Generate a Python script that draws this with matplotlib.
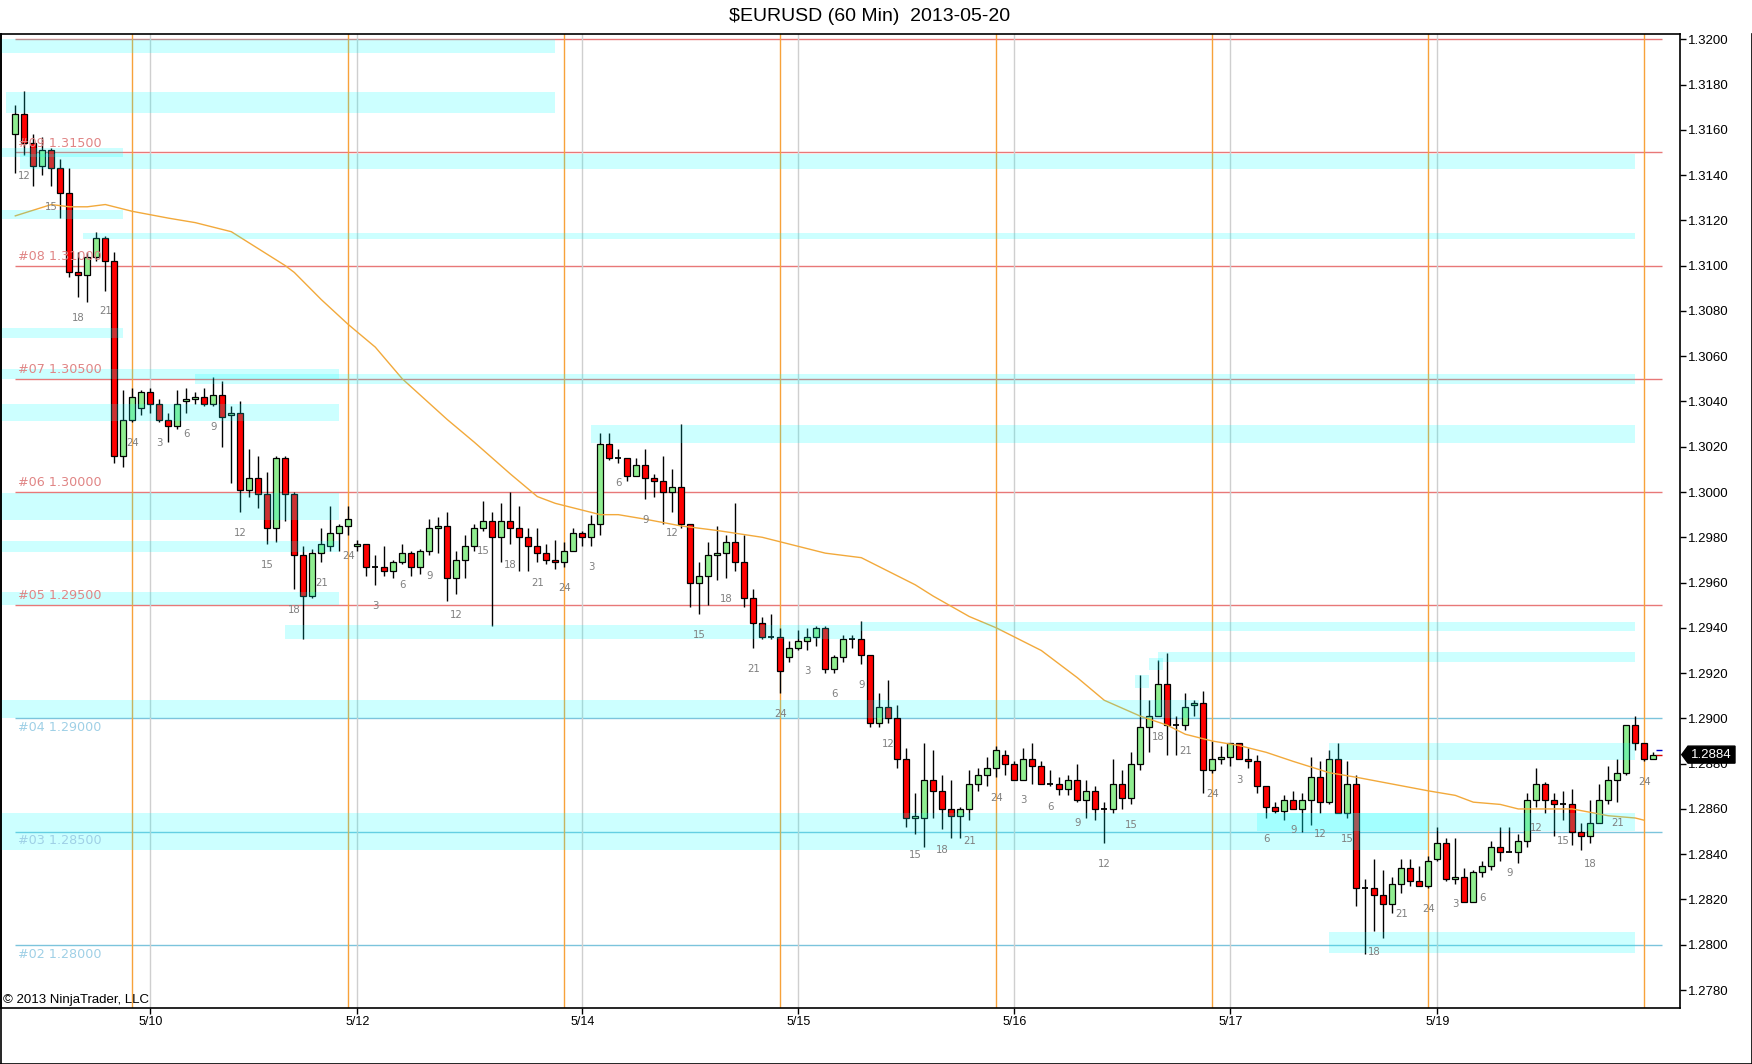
import matplotlib
matplotlib.use("Agg")
import matplotlib.pyplot as plt
from matplotlib.lines import Line2D
from matplotlib.patches import Polygon
import numpy as np

plt.rcParams['font.family'] = ['Liberation Sans', 'DejaVu Sans']

# hourly candles, index 0 = first bar (hour 11)
opens = [1.3158, 1.3167, 1.3154, 1.3144, 1.3151, 1.3143, 1.3132, 1.3097, 1.3096, 1.3104,
         1.3112, 1.3102, 1.3016, 1.3032, 1.3037, 1.3044, 1.3039, 1.3032, 1.3029, 1.3040,
         1.3041, 1.3042, 1.3039, 1.3043, 1.3034, 1.3035, 1.3001, 1.3006, 1.2999, 1.2984,
         1.3015, 1.2999, 1.2972, 1.2954, 1.2973, 1.2976, 1.2982, 1.2985, 1.2976, 1.2977,
         1.2967, 1.2967, 1.2965, 1.2969, 1.2973, 1.2967, 1.2974, 1.2984, 1.2985, 1.2962,
         1.2970, 1.2976, 1.2984, 1.2987, 1.2980, 1.2987, 1.2984, 1.2980, 1.2976, 1.2973,
         1.2970, 1.2969, 1.2974, 1.2982, 1.2980, 1.2986, 1.3021, 1.3015, 1.3015, 1.3007,
         1.3012, 1.3006, 1.3005, 1.3000, 1.3002, 1.2986, 1.2960, 1.2963, 1.2972, 1.2973,
         1.2978, 1.2969, 1.2953, 1.2942, 1.2936, 1.2936, 1.2927, 1.2931, 1.2934, 1.2936,
         1.2940, 1.2922, 1.2927, 1.2935, 1.2935, 1.2928, 1.2898, 1.2905, 1.2900, 1.2882,
         1.2856, 1.2856, 1.2873, 1.2868, 1.2860, 1.2857, 1.2860, 1.2871, 1.2875, 1.2878,
         1.2884, 1.2880, 1.2873, 1.2882, 1.2879, 1.2871, 1.2871, 1.2869, 1.2873, 1.2864,
         1.2868, 1.2860, 1.2860, 1.2871, 1.2865, 1.2880, 1.2896, 1.2901, 1.2915, 1.2897,
         1.2897, 1.2906, 1.2907, 1.2877, 1.2882, 1.2883, 1.2889, 1.2882, 1.2881, 1.2870,
         1.2861, 1.2859, 1.2864, 1.2860, 1.2864, 1.2874, 1.2863, 1.2882, 1.2858, 1.2871,
         1.2825, 1.2825, 1.2822, 1.2818, 1.2827, 1.2834, 1.2828, 1.2826, 1.2838, 1.2845,
         1.2829, 1.2830, 1.2819, 1.2832, 1.2835, 1.2843, 1.2841, 1.2841, 1.2846, 1.2864,
         1.2871, 1.2864, 1.2862, 1.2862, 1.2850, 1.2848, 1.2854, 1.2864, 1.2873, 1.2876,
         1.2897, 1.2889, 1.2882]
highs = [1.3171, 1.3177, 1.3158, 1.3157, 1.3152, 1.3147, 1.3143, 1.3106, 1.3106, 1.3115,
         1.3113, 1.3106, 1.3045, 1.3046, 1.3045, 1.3046, 1.3041, 1.3035, 1.3045, 1.3046,
         1.3044, 1.3046, 1.3051, 1.3049, 1.3038, 1.3040, 1.3019, 1.3016, 1.3009, 1.3016,
         1.3016, 1.3000, 1.2976, 1.2975, 1.2984, 1.2994, 1.2986, 1.2994, 1.2979, 1.2977,
         1.2972, 1.2976, 1.2970, 1.2977, 1.2974, 1.2975, 1.2988, 1.2989, 1.2991, 1.2974,
         1.2981, 1.2986, 1.2996, 1.2991, 1.2995, 1.3000, 1.2994, 1.2984, 1.2984, 1.2977,
         1.2979, 1.2978, 1.2984, 1.2983, 1.2990, 1.3026, 1.3026, 1.3019, 1.3015, 1.3015,
         1.3019, 1.3008, 1.3016, 1.3010, 1.3030, 1.2986, 1.2969, 1.2978, 1.2985, 1.2981,
         1.2995, 1.2981, 1.2957, 1.2945, 1.2946, 1.2940, 1.2934, 1.2939, 1.2940, 1.2941,
         1.2941, 1.2928, 1.2937, 1.2937, 1.2943, 1.2928, 1.2911, 1.2917, 1.2906, 1.2887,
         1.2867, 1.2889, 1.2886, 1.2875, 1.2873, 1.2861, 1.2877, 1.2878, 1.2883, 1.2888,
         1.2886, 1.2881, 1.2887, 1.2889, 1.2881, 1.2877, 1.2874, 1.2875, 1.2880, 1.2873,
         1.2870, 1.2863, 1.2882, 1.2877, 1.2885, 1.2919, 1.2908, 1.2926, 1.2929, 1.2901,
         1.2911, 1.2908, 1.2912, 1.2890, 1.2888, 1.2889, 1.2889, 1.2887, 1.2884, 1.2870,
         1.2863, 1.2866, 1.2868, 1.2867, 1.2883, 1.2881, 1.2886, 1.2889, 1.2881, 1.2875,
         1.2829, 1.2838, 1.2833, 1.2830, 1.2838, 1.2838, 1.2835, 1.2839, 1.2852, 1.2847,
         1.2847, 1.2834, 1.2833, 1.2837, 1.2846, 1.2852, 1.2852, 1.2849, 1.2867, 1.2878,
         1.2872, 1.2867, 1.2868, 1.2869, 1.2854, 1.2864, 1.2871, 1.2879, 1.2882, 1.2897,
         1.2901, 1.2889, 1.2885]
lows = [1.3141, 1.3149, 1.3135, 1.3140, 1.3135, 1.3121, 1.3095, 1.3086, 1.3084, 1.3102,
        1.3089, 1.3013, 1.3011, 1.3031, 1.3034, 1.3035, 1.3031, 1.3022, 1.3028, 1.3035,
        1.3039, 1.3038, 1.3038, 1.3020, 1.3004, 1.2991, 1.2998, 1.2993, 1.2977, 1.2978,
        1.2987, 1.2957, 1.2935, 1.2953, 1.2969, 1.2974, 1.2974, 1.2981, 1.2974, 1.2963,
        1.2959, 1.2963, 1.2962, 1.2968, 1.2963, 1.2964, 1.2972, 1.2973, 1.2952, 1.2955,
        1.2962, 1.2974, 1.2983, 1.2941, 1.2969, 1.2977, 1.2965, 1.2965, 1.2969, 1.2968,
        1.2966, 1.2967, 1.2974, 1.2976, 1.2976, 1.2981, 1.3014, 1.3013, 1.3005, 1.3007,
        1.2997, 1.2998, 1.2986, 1.2991, 1.2984, 1.2949, 1.2946, 1.2950, 1.2961, 1.2962,
        1.2965, 1.2949, 1.2931, 1.2935, 1.2935, 1.2911, 1.2925, 1.2930, 1.2930, 1.2932,
        1.2920, 1.2920, 1.2925, 1.2931, 1.2924, 1.2896, 1.2896, 1.2898, 1.2878, 1.2852,
        1.2849, 1.2843, 1.2856, 1.2851, 1.2847, 1.2847, 1.2855, 1.2868, 1.2870, 1.2874,
        1.2875, 1.2873, 1.2873, 1.2871, 1.2871, 1.2870, 1.2866, 1.2866, 1.2863, 1.2856,
        1.2855, 1.2845, 1.2858, 1.2860, 1.2862, 1.2877, 1.2885, 1.2901, 1.2884, 1.2884,
        1.2895, 1.2901, 1.2867, 1.2876, 1.2880, 1.2879, 1.2882, 1.2878, 1.2867, 1.2856,
        1.2858, 1.2855, 1.2860, 1.2850, 1.2853, 1.2858, 1.2862, 1.2858, 1.2856, 1.2817,
        1.2796, 1.2806, 1.2803, 1.2814, 1.2823, 1.2826, 1.2826, 1.2825, 1.2837, 1.2828,
        1.2827, 1.2819, 1.2819, 1.2830, 1.2833, 1.2837, 1.2841, 1.2836, 1.2843, 1.2861,
        1.2858, 1.2848, 1.2855, 1.2844, 1.2842, 1.2845, 1.2854, 1.2862, 1.2863, 1.2875,
        1.2886, 1.2881, 1.2882]
closes = [1.3167, 1.3154, 1.3144, 1.3151, 1.3143, 1.3132, 1.3097, 1.3096, 1.3104, 1.3112,
          1.3102, 1.3016, 1.3032, 1.3042, 1.3044, 1.3039, 1.3032, 1.3029, 1.3039, 1.3041,
          1.3042, 1.3039, 1.3043, 1.3033, 1.3035, 1.3001, 1.3006, 1.2999, 1.2984, 1.3015,
          1.2999, 1.2972, 1.2954, 1.2973, 1.2977, 1.2982, 1.2985, 1.2988, 1.2977, 1.2967,
          1.2967, 1.2965, 1.2969, 1.2973, 1.2967, 1.2974, 1.2984, 1.2985, 1.2962, 1.2970,
          1.2976, 1.2984, 1.2987, 1.2980, 1.2987, 1.2984, 1.2980, 1.2976, 1.2973, 1.2970,
          1.2969, 1.2974, 1.2982, 1.2980, 1.2986, 1.3021, 1.3015, 1.3015, 1.3007, 1.3012,
          1.3006, 1.3005, 1.3000, 1.3002, 1.2986, 1.2960, 1.2963, 1.2972, 1.2973, 1.2978,
          1.2969, 1.2953, 1.2942, 1.2936, 1.2936, 1.2921, 1.2931, 1.2934, 1.2936, 1.2940,
          1.2922, 1.2927, 1.2935, 1.2935, 1.2928, 1.2898, 1.2905, 1.2900, 1.2882, 1.2856,
          1.2857, 1.2873, 1.2868, 1.2860, 1.2857, 1.2860, 1.2871, 1.2875, 1.2878, 1.2886,
          1.2880, 1.2873, 1.2882, 1.2879, 1.2871, 1.2871, 1.2869, 1.2873, 1.2864, 1.2868,
          1.2860, 1.2860, 1.2871, 1.2865, 1.2880, 1.2896, 1.2901, 1.2915, 1.2897, 1.2897,
          1.2905, 1.2907, 1.2877, 1.2882, 1.2883, 1.2889, 1.2882, 1.2881, 1.2870, 1.2861,
          1.2859, 1.2864, 1.2860, 1.2864, 1.2874, 1.2863, 1.2882, 1.2858, 1.2871, 1.2825,
          1.2825, 1.2822, 1.2818, 1.2827, 1.2834, 1.2828, 1.2826, 1.2837, 1.2845, 1.2829,
          1.2830, 1.2819, 1.2832, 1.2835, 1.2843, 1.2841, 1.2841, 1.2846, 1.2864, 1.2871,
          1.2864, 1.2862, 1.2862, 1.2850, 1.2848, 1.2854, 1.2864, 1.2873, 1.2876, 1.2897,
          1.2889, 1.2882, 1.2884]
first_hour = 11

# moving average
ma_idx = [0, 4, 6, 8, 10, 13, 17, 20, 24, 26, 30, 31, 34, 37, 40, 43, 48, 51, 55, 58,
          60, 62, 65, 67, 70, 74, 78, 83, 85, 87, 90, 94, 97, 100, 102, 106, 109, 111, 114, 118,
          121, 125, 128, 130, 133, 136, 139, 142, 146, 149, 153, 157, 160, 162, 165, 167, 170, 173, 177, 180,
          181]
ma_val = [1.3122, 1.3127, 1.3126, 1.3126, 1.3127, 1.3124, 1.3121, 1.3119, 1.3115, 1.3110,
          1.3100, 1.3097, 1.3085, 1.3074, 1.3064, 1.3050, 1.3032, 1.3022, 1.3008, 1.2998,
          1.2995, 1.2993, 1.2990, 1.2990, 1.2988, 1.2985, 1.2983, 1.2980, 1.2978, 1.2976,
          1.2973, 1.2971, 1.2965, 1.2959, 1.2954, 1.2945, 1.2940, 1.2936, 1.2930, 1.2918,
          1.2908, 1.2901, 1.2897, 1.2893, 1.2890, 1.2888, 1.2885, 1.2881, 1.2876, 1.2874,
          1.2871, 1.2868, 1.2866, 1.2863, 1.2862, 1.2860, 1.2860, 1.2860, 1.2857, 1.2856,
          1.2855]

# supply / demand zones: low, high, first bar, last bar
zone_lo = [1.31941, 1.31676, 1.31480, 1.31427, 1.31205, 1.31116, 1.30680, 1.30498, 1.30476, 1.30315,
           1.30215, 1.29876, 1.29736, 1.29501, 1.29349, 1.29387, 1.29250, 1.29214, 1.29135, 1.29002,
           1.28816, 1.28419, 1.28504, 1.27962]
zone_hi = [1.32000, 1.31766, 1.31520, 1.31493, 1.31245, 1.31146, 1.30725, 1.30543, 1.30521, 1.30389,
           1.30296, 1.29997, 1.29785, 1.29560, 1.29413, 1.29427, 1.29295, 1.29267, 1.29192, 1.29081,
           1.28890, 1.28583, 1.28583, 1.28058]
zone_x0 = [-1.6, -1.0, -1.6, 0.5, -1.6, 7.5, -1.6, -1.6, 20, -1.6,
           64, -1.6, -1.6, -1.6, 30, 94, 127, 126, 124.4, -1.6,
           146, -1.6, 138, 146]
zone_x1 = [60, 60, 12, 180, 12, 180, 12, 36, 180, 36,
           180, 36, 36, 36, 94, 180, 180, 127.5, 126, 131.5,
           180, 157, 180, 180]

# pivot levels (upper ones drawn red, lower ones blue)
level_names = ['', '#09', '#08', '#07', '#06', '#05', '#04', '#03', '#02']
level_vals = [1.3200, 1.3150, 1.3100, 1.3050, 1.3000, 1.2950, 1.2900, 1.2850, 1.2800]
level_upper = [True, True, True, True, True, True, False, False, False]

session_end = [13, 37, 61, 85, 109, 133, 157, 181]
date_pos = [15, 38, 63, 87, 111, 135, 158]
date_labels = ['5/10', '5/12', '5/14', '5/15', '5/16', '5/17', '5/19']
last_bid, last_ask = 1.2884, 1.2886

W, H = 1752, 1064
fig = plt.figure(figsize=(W / 100, H / 100), dpi=100)
ax = fig.add_axes([1 / W, 1 - 1007.7 / H, 1679 / W, (1007.7 - 34.3) / H])
ax.set_xlim(-1.59, 184.97)
ax.set_ylim(1.27722, 1.32022)

o = np.array(opens); h = np.array(highs); l = np.array(lows); c = np.array(closes)
x = np.arange(len(o))

red_lvl, blue_lvl = '#e87878', '#7cc4dc'
for name, v, upper in zip(level_names, level_vals, level_upper):
    ax.hlines(v, 0, 183, color=red_lvl if upper else blue_lvl, lw=1, zorder=1)
    if name:
        ax.annotate(f'{name} {v:.5f}', (0.3, v), xytext=(0, 2 if upper else -2),
                    textcoords='offset points', ha='left', va='bottom' if upper else 'top',
                    color='#e08585' if upper else '#9fd0e6', fontsize=9.2,
                    family='DejaVu Sans', zorder=6)

for p in date_pos:
    ax.axvline(p, color='#cfcfcf', lw=1, zorder=1)
for p in session_end:
    ax.axvline(p, color='#f7a23a', lw=1.0, zorder=1)

# candles
ax.vlines(x, l, h, color='black', lw=1, zorder=3)
up = c > o
dn = c < o
flat = c == o
bw = 0.64
ax.bar(x[up], (c - o)[up], bottom=o[up], width=bw, color='#90ee90', edgecolor='black', lw=0.9, zorder=4)
ax.bar(x[dn], (o - c)[dn], bottom=c[dn], width=bw, color='#ff0000', edgecolor='black', lw=0.9, zorder=4)
ax.hlines(o[flat], x[flat] - bw / 2, x[flat] + bw / 2, color='black', lw=1.3, zorder=4)

ax.plot(ma_idx, ma_val, color='#f2a93b', lw=1.0, zorder=4.5)

for lo, hi, x0, x1 in zip(zone_lo, zone_hi, zone_x0, zone_x1):
    ax.fill_between([x0, x1], lo, hi, color='cyan', alpha=0.2, lw=0, zorder=5)

# hour labels every 3 bars
for i in x:
    hr = (first_hour + i) % 24
    if hr % 3 == 0:
        ax.annotate(str(hr if hr else 24), (i, l[i]), xytext=(0, -15), textcoords='offset points',
                    ha='center', va='center', fontsize=7.3, color='#7f7f7f',
                    family='DejaVu Sans', zorder=6)

# last price marks
ax.hlines(last_ask, x[-1] + 0.3, 183, color='#0000cc', lw=1, zorder=6)
ax.hlines(last_bid, x[-1] + 0.3, 183, color='#dd0000', lw=1, zorder=6)

ax.yaxis.tick_right()
yt = np.round(np.arange(1.2780, 1.32001, 0.002), 4)
ax.set_yticks(yt)
ax.set_yticklabels([f'{v:.4f}' for v in yt], fontsize=9.5)
ax.tick_params(axis='y', length=4, width=1, pad=2, direction='out')
ax.set_xticks(date_pos)
ax.set_xticklabels(date_labels, fontsize=9)
ax.tick_params(axis='x', length=4, width=1, pad=2, direction='out')
for s in ax.spines.values():
    s.set_linewidth(1.2)
    s.set_color('black')

# price marker
ty = ax.transData.transform((0, last_bid))[1] / H
px0, px1, px2 = 1681.7 / W, 1688 / W, 1735 / W
hh = 8.5 / H
fig.patches.append(Polygon([[px0, ty], [px1, ty + hh], [px2, ty + hh], [px2, ty - hh], [px1, ty - hh]],
                           closed=True, facecolor='black', edgecolor='black',
                           transform=fig.transFigure, figure=fig, zorder=10))
fig.text(1711 / W, ty, f'{last_bid:.4f}', color='white', fontsize=9.5, ha='center', va='center', zorder=11)

fig.text(870 / W, 1 - 16.7 / H, '$EURUSD (60 Min)  2013-05-20', fontsize=14, ha='center', va='center')
fig.text(3 / W, 1 - 1000 / H, '\u00a9 2013 NinjaTrader, LLC', fontsize=9.5, ha='left', va='center', zorder=10)

# outer frame
for xs, ys in [([0.5 / W, 0.5 / W], [0, 1 - 34.3 / H]), ([0, 1], [0.5 / H, 0.5 / H]),
               ([1 - 0.5 / W, 1 - 0.5 / W], [0, 1 - 34.3 / H])]:
    fig.add_artist(Line2D(xs, ys, color='black', lw=1.2, transform=fig.transFigure))

fig.savefig('out.png', dpi=100, facecolor='white')
